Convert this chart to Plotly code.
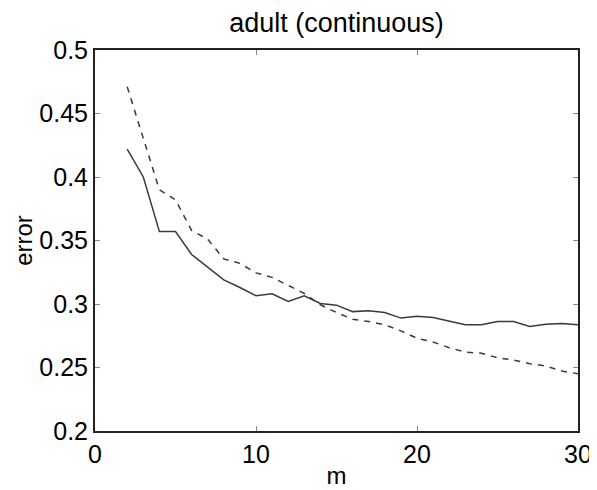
import plotly.graph_objects as go

m = list(range(2, 31))
err_solid = [0.422, 0.400, 0.357, 0.357, 0.339, 0.329, 0.319, 0.313, 0.3065, 0.308,
             0.302, 0.3065, 0.3004, 0.2991, 0.294, 0.2946, 0.2933, 0.2889, 0.2904, 0.2894,
             0.2862, 0.2836, 0.2836, 0.2862, 0.2862, 0.2823, 0.2841, 0.2846, 0.2836]
err_dashed = [0.471, 0.430, 0.390, 0.382, 0.358, 0.351, 0.3355, 0.332, 0.3245, 0.321,
              0.3145, 0.3083, 0.2994, 0.2933, 0.288, 0.2862, 0.2836, 0.2788, 0.273, 0.2701,
              0.2656, 0.2622, 0.2612, 0.2577, 0.2559, 0.253, 0.2512, 0.2472, 0.2451]
xticks = [0, 10, 20, 30]
yticks = [0.2, 0.25, 0.3, 0.35, 0.4, 0.45, 0.5]

fig = go.Figure()
fig.add_trace(go.Scatter(x=m, y=err_solid, mode='lines',
                         line=dict(color='#3a3a3a', width=1.5)))
fig.add_trace(go.Scatter(x=m, y=err_dashed, mode='lines',
                         line=dict(color='#3a3a3a', width=1.5, dash='6px,6px')))

axis_style = dict(showline=True, linecolor='#222222', linewidth=2, mirror='ticks',
                  ticks='inside', ticklen=5, tickcolor='#888888', showgrid=False,
                  zeroline=False, automargin=False, ticklabeloverflow='allow',
                  tickfont=dict(size=25, color='black'))

# page body has an 8px margin, so the figure is a bit smaller than the window
fig.update_layout(
    width=589, height=482,
    margin=dict(l=87, r=19, t=42, b=59),
    paper_bgcolor='white', plot_bgcolor='white',
    font=dict(family='Liberation Sans, Arial, sans-serif', color='black'),
    showlegend=False,
    title=dict(text='adult (continuous)', x=0.5, xanchor='center', xref='paper',
               yref='container', y=0.969, yanchor='middle', font=dict(size=27)),
    xaxis=dict(range=[0, 30], tickvals=xticks, ticktext=[str(t) for t in xticks],
               ticklabelstandoff=0,
               title=dict(text='m', font=dict(size=24), standoff=0), **axis_style),
    yaxis=dict(range=[0.2, 0.5], tickvals=yticks, ticktext=[f'{t:g}' for t in yticks],
               ticklabelstandoff=0,
               title=dict(text='error', font=dict(size=24), standoff=0), **axis_style),
)

fig.write_html("out.html")
